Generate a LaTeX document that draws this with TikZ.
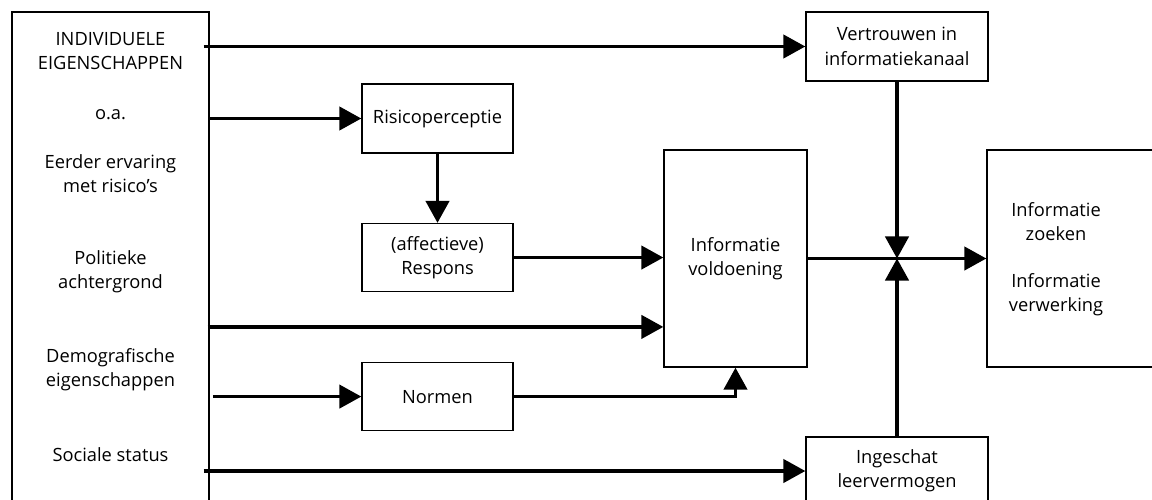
\documentclass[tikz,border=0pt]{standalone}
\usepackage{fontspec}
\setmainfont{Open Sans}
\usetikzlibrary{arrows.meta}
\tikzstyle{box} = [rectangle, draw=black, line width=0.9pt, align=center, font=\fontsize{13}{17.3}\selectfont]
\tikzstyle{tekst} = [align=center, font=\fontsize{13}{17.3}\selectfont]
\tikzstyle{arrow} = [line width=2.6pt, -{Triangle[length=0.55cm, width=0.58cm]}]

\begin{document}
\begin{tikzpicture}[x=0.025cm, y=-0.025cm, node distance=3.475cm]
  \useasboundingbox (0,0) rectangle (1152,500);
  \clip (0,0) rectangle (1152,500);

  \node (indiv) [box, minimum width=4.925cm, minimum height=12.7cm] at (110.5,266) {};
  \node (kop) [tekst] at (110.5,51) {INDIVIDUELE\\EIGENSCHAPPEN};
  \node (oa) [tekst] at (110.5,115) {o.a.};
  \node (eerder) [tekst] at (110.5,173.5) {Eerder ervaring\\met risico's};
  \node (polit) [tekst] at (110.5,271.5) {Politieke\\achtergrond};
  \node (demo) [tekst] at (110.5,369.5) {Demografische\\eigenschappen};
  \node (sociaal) [tekst] at (110.5,455) {Sociale status};

  \node (vertr) [box, minimum width=4.55cm, minimum height=1.725cm] at (897,46.5) {Vertrouwen in\\informatiekanaal};
  \node (risico) [box, minimum width=3.775cm, minimum height=1.725cm] at (437.5,118.5) {Risicoperceptie};
  \node (respons) [box, minimum width=3.775cm, minimum height=1.7cm, below of=risico] {(affectieve)\\Respons};
  \node (normen) [box, minimum width=3.775cm, minimum height=1.7cm, below of=respons] {Normen};
  \node (voldoen) [box, minimum width=3.575cm, minimum height=5.425cm] at (735.5,258.5) {Informatie\\voldoening};
  \node (zoek) [box, minimum width=4.575cm, minimum height=5.425cm] at (1078.5,258.5) {};
  \node (zoektekst) [tekst] at (1056,259) {Informatie\\zoeken\\[16pt]Informatie\\verwerking};
  \node (leer) [box, minimum width=4.55cm, minimum height=1.7cm] at (897,471) {Ingeschat\\leervermogen};

  \coordinate (pol) at ([yshift=-1.71cm]voldoen.west);
  \coordinate (knoop) at (vertr.south |- voldoen.east);

  \draw [arrow] ([xshift=-0.15cm]indiv.east |- vertr.west) -- (vertr.west);
  \draw [arrow] (indiv.east |- risico.west) -- (risico.west);
  \draw [arrow] (risico) -- (respons);
  \draw [arrow] (respons.east) -- (voldoen.west |- respons.east);
  \draw [arrow] ([xshift=-0.05cm]indiv.east |- pol) -- (pol);
  \draw [arrow] ([xshift=0.08cm]indiv.east |- normen.west) -- (normen.west);
  \draw [arrow] (normen.east) -| (voldoen.south);
  \draw [arrow] ([xshift=-0.15cm]indiv.east |- leer.west) -- (leer.west);
  \draw [arrow] (voldoen.east) -- (zoek.west);
  \draw [arrow] (vertr.south) -- (knoop);
  \draw [arrow] (leer.north) -- (knoop);

\end{tikzpicture}
\end{document}
